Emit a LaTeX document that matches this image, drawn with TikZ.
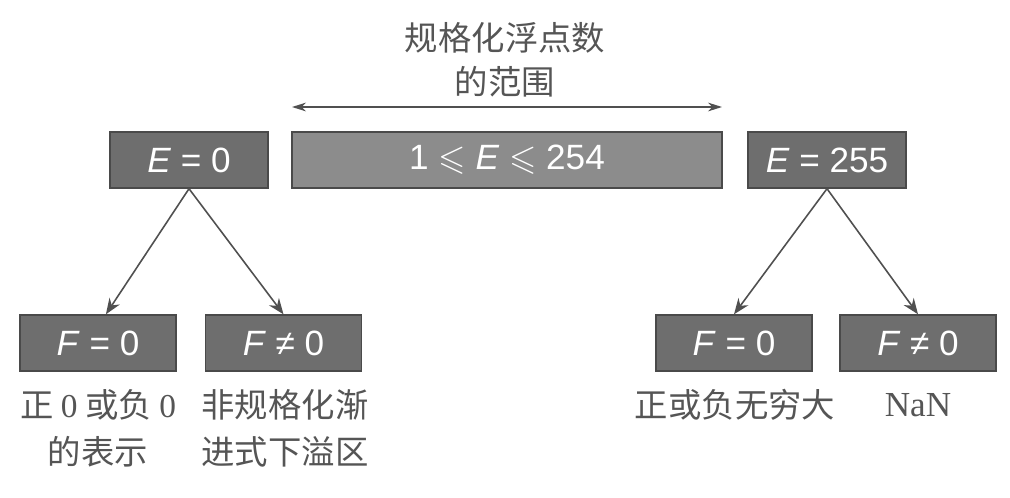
\documentclass[tikz,border=0pt]{standalone}
\usepackage{amssymb}
\usepackage{fontspec}
\setmainfont{Liberation Serif}
\newfontfamily\cjk{Noto Sans CJK SC}
\newfontfamily\boxfont{Liberation Sans}
\usetikzlibrary{arrows.meta}
\definecolor{boxgray}{HTML}{6E6E6E}
\definecolor{midgray}{HTML}{8C8C8C}
\definecolor{edgegray}{HTML}{4A4A4A}
\definecolor{txtgray}{HTML}{555555}
\definecolor{linegray}{HTML}{505050}
\tikzset{
  ebox/.style={draw=edgegray, line width=0.8pt, fill=boxgray, text=white,
    minimum width=3.16cm, minimum height=1.12cm, inner sep=0pt,
    font=\boxfont\fontsize{20}{24}\selectfont},
  lbl/.style={text=txtgray, inner sep=0pt, font=\cjk\fontsize{19}{23}\selectfont},
  conn/.style={draw=linegray, line width=0.9pt, -{Stealth[length=9pt,width=7pt]}},
}
\begin{document}
\begin{tikzpicture}[x=0.02cm, y=-0.02cm]
\useasboundingbox (0,0) rectangle (1010,497);
\fill[white] (0,0) rectangle (1010,497);
% top boxes
\node[ebox] (E0) at (189,160) {\textit{E} = 0};
\node[ebox, fill=midgray, minimum width=8.6cm] (mid) at (507,160) {1 $\leqslant$ \textit{E} $\leqslant$ 254};
\node[ebox] (E255) at (827,160) {\textit{E} = 255};
% bottom boxes
\node[ebox, minimum width=3.12cm] (F0L) at (98,343) {\textit{F} = 0};
\node[ebox, minimum width=3.12cm] (FNL) at (283.5,343) {\textit{F} ≠ 0};
\node[ebox, minimum width=3.12cm] (F0R) at (734,343) {\textit{F} = 0};
\node[ebox, minimum width=3.12cm] (FNR) at (918,343) {\textit{F} ≠ 0};
% title
\node[lbl] (t1) at (505,38) {规格化浮点数};
\node[lbl] (t2) at (505,82) {的范围};
\coordinate (al) at (292,107);
\coordinate (ar) at (722,107);
\draw[draw=linegray, line width=0.8pt, {Stealth[length=8pt,width=5pt]}-{Stealth[length=8pt,width=5pt]}] (al) -- (ar);
% connectors
\draw[conn] (E0.south) -- ([xshift=5\pgflinewidth]F0L.north);
\draw[conn] (E0.south) -- (FNL.north);
\draw[conn] (E255.south) -- (F0R.north);
\draw[conn] (E255.south) -- (FNR.north);
% labels
\node[lbl] (l1a) at (98,405) {正 {\rmfamily 0} 或负 {\rmfamily 0}};
\node[lbl] (l1b) at (98,452) {的表示};
\node[lbl] (l2a) at (285,405) {非规格化渐};
\node[lbl] (l2b) at (285,452) {进式下溢区};
\node[lbl] (l3) at (735,405) {正或负无穷大};
\node[lbl, font=\rmfamily\fontsize{20}{24}\selectfont] (l4) at (918,405) {NaN};
\end{tikzpicture}
\end{document}
